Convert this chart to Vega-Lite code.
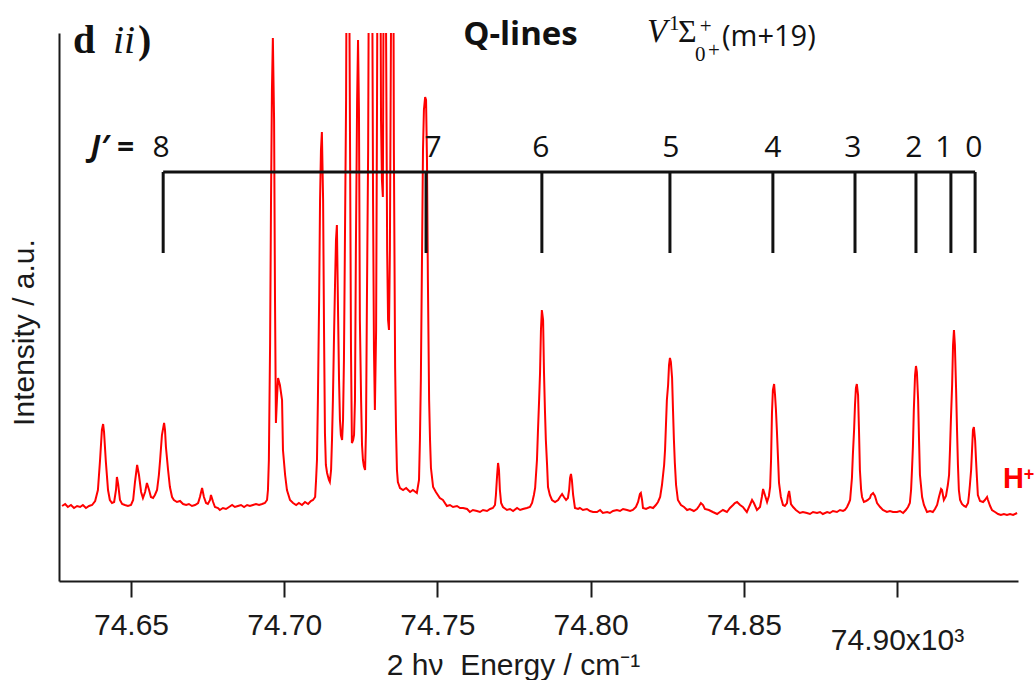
{
  "$schema": "https://vega.github.io/schema/vega-lite/v6.json",
  "width": 959,
  "height": 548,
  "autosize": {"type": "none"},
  "padding": {"left": 59, "top": 33, "right": 17, "bottom": 99},
  "background": "white",
  "config": {"view": {"stroke": null}, "font": "Liberation Sans"},
  "resolve": {"axis": {"x": "independent", "y": "independent"}},
  "datasets": {
    "spectrum": [
      {"e":74627.5,"i":75},{"e":74628.5,"i":77},{"e":74629.4,"i":74},{"e":74630.4,"i":76},{"e":74631.4,"i":73},{"e":74632.4,"i":75},{"e":74633.4,"i":74},{"e":74634.3,"i":76},{"e":74635.3,"i":73},{"e":74636.3,"i":75},{"e":74637.3,"i":76},{"e":74638.3,"i":80},{"e":74639.2,"i":91},{"e":74639.9,"i":121},{"e":74640.5,"i":151},{"e":74640.9,"i":157},{"e":74641.2,"i":149},{"e":74641.8,"i":119},{"e":74642.5,"i":91},{"e":74643.1,"i":81},{"e":74643.8,"i":78},{"e":74644.5,"i":79},{"e":74645.1,"i":91},{"e":74645.4,"i":104},{"e":74645.8,"i":97},{"e":74646.4,"i":81},{"e":74647.1,"i":77},{"e":74648.0,"i":76},{"e":74649.0,"i":75},{"e":74650.0,"i":76},{"e":74650.7,"i":81},{"e":74651.3,"i":99},{"e":74652.0,"i":116},{"e":74652.6,"i":106},{"e":74653.3,"i":89},{"e":74653.9,"i":83},{"e":74654.6,"i":89},{"e":74655.2,"i":98},{"e":74655.9,"i":91},{"e":74656.5,"i":84},{"e":74657.2,"i":83},{"e":74657.8,"i":86},{"e":74658.5,"i":91},{"e":74659.1,"i":106},{"e":74659.5,"i":121},{"e":74660.1,"i":146},{"e":74660.8,"i":158},{"e":74661.1,"i":151},{"e":74661.4,"i":134},{"e":74662.1,"i":111},{"e":74662.7,"i":94},{"e":74663.4,"i":84},{"e":74664.0,"i":81},{"e":74665.0,"i":79},{"e":74666.0,"i":80},{"e":74667.0,"i":77},{"e":74668.0,"i":76},{"e":74668.9,"i":77},{"e":74669.9,"i":75},{"e":74670.9,"i":76},{"e":74671.9,"i":78},{"e":74672.5,"i":84},{"e":74673.2,"i":93},{"e":74673.8,"i":84},{"e":74674.5,"i":78},{"e":74675.1,"i":77},{"e":74675.8,"i":81},{"e":74676.1,"i":86},{"e":74676.8,"i":79},{"e":74677.4,"i":74},{"e":74678.4,"i":73},{"e":74679.0,"i":71},{"e":74680.0,"i":73},{"e":74681.0,"i":72},{"e":74682.0,"i":74},{"e":74683.0,"i":76},{"e":74683.9,"i":74},{"e":74684.9,"i":75},{"e":74685.9,"i":76},{"e":74686.9,"i":74},{"e":74687.9,"i":76},{"e":74688.8,"i":75},{"e":74689.8,"i":76},{"e":74690.8,"i":77},{"e":74691.8,"i":76},{"e":74692.8,"i":77},{"e":74693.7,"i":78},{"e":74694.4,"i":81},{"e":74694.7,"i":91},{"e":74695.0,"i":121},{"e":74695.4,"i":238},{"e":74695.7,"i":381},{"e":74696.0,"i":491},{"e":74696.3,"i":543},{"e":74696.7,"i":461},{"e":74697.0,"i":281},{"e":74697.3,"i":158},{"e":74697.7,"i":186},{"e":74698.0,"i":203},{"e":74698.6,"i":196},{"e":74699.3,"i":181},{"e":74699.6,"i":131},{"e":74700.3,"i":106},{"e":74700.9,"i":91},{"e":74701.9,"i":81},{"e":74702.9,"i":78},{"e":74703.9,"i":76},{"e":74704.8,"i":78},{"e":74705.8,"i":76},{"e":74706.8,"i":79},{"e":74707.8,"i":77},{"e":74708.7,"i":80},{"e":74709.4,"i":81},{"e":74710.1,"i":84},{"e":74710.4,"i":101},{"e":74710.7,"i":121},{"e":74711.0,"i":181},{"e":74711.4,"i":281},{"e":74711.7,"i":381},{"e":74712.0,"i":431},{"e":74712.3,"i":449},{"e":74712.7,"i":381},{"e":74713.0,"i":251},{"e":74713.3,"i":148},{"e":74713.6,"i":116},{"e":74714.0,"i":108},{"e":74714.6,"i":101},{"e":74714.9,"i":99},{"e":74715.3,"i":111},{"e":74715.6,"i":141},{"e":74715.9,"i":181},{"e":74716.3,"i":251},{"e":74716.6,"i":298},{"e":74716.9,"i":341},{"e":74717.2,"i":356},{"e":74717.6,"i":264},{"e":74717.9,"i":201},{"e":74718.2,"i":161},{"e":74718.5,"i":146},{"e":74718.9,"i":141},{"e":74719.2,"i":161},{"e":74719.5,"i":221},{"e":74719.8,"i":331},{"e":74720.2,"i":481},{"e":74720.5,"i":731},{"e":74720.8,"i":831},{"e":74721.1,"i":681},{"e":74721.5,"i":431},{"e":74721.8,"i":231},{"e":74722.1,"i":138},{"e":74722.5,"i":141},{"e":74722.8,"i":146},{"e":74723.1,"i":181},{"e":74723.4,"i":331},{"e":74723.8,"i":481},{"e":74724.1,"i":541},{"e":74724.4,"i":471},{"e":74724.7,"i":261},{"e":74725.1,"i":181},{"e":74725.4,"i":136},{"e":74725.7,"i":121},{"e":74726.0,"i":115},{"e":74726.4,"i":111},{"e":74726.7,"i":151},{"e":74727.0,"i":281},{"e":74727.4,"i":431},{"e":74727.7,"i":681},{"e":74728.0,"i":831},{"e":74728.3,"i":781},{"e":74728.7,"i":631},{"e":74729.0,"i":381},{"e":74729.3,"i":231},{"e":74729.6,"i":171},{"e":74730.0,"i":251},{"e":74730.3,"i":481},{"e":74730.6,"i":781},{"e":74730.9,"i":831},{"e":74731.3,"i":731},{"e":74731.6,"i":461},{"e":74731.9,"i":401},{"e":74732.2,"i":384},{"e":74732.6,"i":731},{"e":74732.9,"i":831},{"e":74733.2,"i":581},{"e":74733.6,"i":331},{"e":74733.9,"i":261},{"e":74734.2,"i":251},{"e":74734.5,"i":331},{"e":74734.9,"i":581},{"e":74735.2,"i":831},{"e":74735.5,"i":781},{"e":74735.8,"i":431},{"e":74736.2,"i":214},{"e":74736.5,"i":151},{"e":74736.8,"i":111},{"e":74737.1,"i":99},{"e":74737.8,"i":93},{"e":74738.8,"i":91},{"e":74739.8,"i":93},{"e":74741.1,"i":89},{"e":74742.0,"i":91},{"e":74743.3,"i":88},{"e":74744.0,"i":101},{"e":74744.3,"i":141},{"e":74744.6,"i":201},{"e":74745.0,"i":331},{"e":74745.3,"i":431},{"e":74745.6,"i":471},{"e":74746.0,"i":484},{"e":74746.3,"i":481},{"e":74746.6,"i":421},{"e":74746.9,"i":301},{"e":74747.3,"i":181},{"e":74747.6,"i":141},{"e":74747.9,"i":113},{"e":74748.6,"i":94},{"e":74749.5,"i":89},{"e":74750.8,"i":83},{"e":74751.8,"i":81},{"e":74753.1,"i":75},{"e":74754.1,"i":76},{"e":74755.1,"i":74},{"e":74756.4,"i":75},{"e":74757.4,"i":73},{"e":74758.4,"i":73},{"e":74759.7,"i":72},{"e":74760.6,"i":69},{"e":74761.6,"i":71},{"e":74762.9,"i":70},{"e":74763.9,"i":69},{"e":74764.9,"i":71},{"e":74766.2,"i":70},{"e":74767.2,"i":72},{"e":74768.1,"i":73},{"e":74768.8,"i":76},{"e":74769.1,"i":86},{"e":74769.5,"i":106},{"e":74769.8,"i":118},{"e":74770.1,"i":111},{"e":74770.4,"i":91},{"e":74770.8,"i":78},{"e":74771.4,"i":74},{"e":74772.7,"i":71},{"e":74773.7,"i":72},{"e":74774.7,"i":70},{"e":74776.0,"i":73},{"e":74777.0,"i":71},{"e":74777.9,"i":72},{"e":74779.2,"i":73},{"e":74780.2,"i":74},{"e":74780.9,"i":78},{"e":74781.5,"i":86},{"e":74781.9,"i":93},{"e":74782.5,"i":121},{"e":74782.8,"i":148},{"e":74783.2,"i":181},{"e":74783.5,"i":208},{"e":74783.8,"i":251},{"e":74784.1,"i":271},{"e":74784.5,"i":261},{"e":74784.8,"i":208},{"e":74785.1,"i":171},{"e":74785.4,"i":141},{"e":74785.8,"i":116},{"e":74786.1,"i":94},{"e":74786.7,"i":86},{"e":74787.4,"i":81},{"e":74788.4,"i":79},{"e":74789.4,"i":81},{"e":74790.0,"i":84},{"e":74790.7,"i":87},{"e":74791.3,"i":84},{"e":74792.0,"i":81},{"e":74792.6,"i":83},{"e":74793.0,"i":91},{"e":74793.3,"i":103},{"e":74793.6,"i":107},{"e":74793.9,"i":101},{"e":74794.3,"i":86},{"e":74794.9,"i":73},{"e":74795.9,"i":72},{"e":74796.5,"i":73},{"e":74797.5,"i":71},{"e":74798.8,"i":72},{"e":74799.8,"i":70},{"e":74800.8,"i":69},{"e":74802.1,"i":69},{"e":74803.1,"i":71},{"e":74804.0,"i":68},{"e":74805.4,"i":69},{"e":74806.3,"i":68},{"e":74807.3,"i":70},{"e":74808.6,"i":71},{"e":74809.6,"i":70},{"e":74810.6,"i":72},{"e":74811.9,"i":71},{"e":74812.9,"i":70},{"e":74813.8,"i":71},{"e":74814.8,"i":74},{"e":74815.5,"i":79},{"e":74816.1,"i":87},{"e":74816.4,"i":88},{"e":74816.8,"i":81},{"e":74817.1,"i":73},{"e":74818.1,"i":72},{"e":74819.4,"i":74},{"e":74820.4,"i":73},{"e":74821.3,"i":76},{"e":74822.0,"i":79},{"e":74822.7,"i":84},{"e":74823.3,"i":96},{"e":74824.0,"i":116},{"e":74824.3,"i":131},{"e":74824.6,"i":156},{"e":74824.9,"i":181},{"e":74825.3,"i":196},{"e":74825.6,"i":216},{"e":74825.9,"i":223},{"e":74826.2,"i":219},{"e":74826.6,"i":203},{"e":74826.9,"i":171},{"e":74827.2,"i":141},{"e":74827.5,"i":118},{"e":74827.9,"i":96},{"e":74828.5,"i":81},{"e":74829.5,"i":76},{"e":74830.5,"i":74},{"e":74831.5,"i":71},{"e":74832.4,"i":72},{"e":74833.7,"i":70},{"e":74834.7,"i":72},{"e":74835.4,"i":75},{"e":74836.0,"i":78},{"e":74836.7,"i":76},{"e":74837.3,"i":72},{"e":74838.6,"i":71},{"e":74839.9,"i":69},{"e":74841.3,"i":67},{"e":74842.2,"i":69},{"e":74843.2,"i":71},{"e":74844.5,"i":69},{"e":74845.5,"i":73},{"e":74846.5,"i":76},{"e":74847.1,"i":78},{"e":74847.8,"i":79},{"e":74848.8,"i":76},{"e":74849.7,"i":74},{"e":74851.0,"i":69},{"e":74852.0,"i":76},{"e":74852.7,"i":81},{"e":74853.3,"i":78},{"e":74854.3,"i":71},{"e":74855.3,"i":74},{"e":74855.9,"i":84},{"e":74856.3,"i":92},{"e":74856.9,"i":86},{"e":74857.6,"i":79},{"e":74858.2,"i":85},{"e":74858.6,"i":94},{"e":74858.9,"i":121},{"e":74859.2,"i":168},{"e":74859.5,"i":191},{"e":74859.9,"i":197},{"e":74860.2,"i":186},{"e":74860.5,"i":171},{"e":74860.8,"i":151},{"e":74861.2,"i":121},{"e":74861.5,"i":98},{"e":74862.1,"i":84},{"e":74862.8,"i":76},{"e":74863.4,"i":75},{"e":74864.1,"i":78},{"e":74864.4,"i":85},{"e":74864.8,"i":90},{"e":74865.1,"i":84},{"e":74865.4,"i":77},{"e":74866.1,"i":74},{"e":74867.0,"i":71},{"e":74868.3,"i":68},{"e":74869.3,"i":69},{"e":74870.6,"i":68},{"e":74871.6,"i":67},{"e":74872.6,"i":69},{"e":74873.9,"i":68},{"e":74874.9,"i":69},{"e":74875.8,"i":67},{"e":74877.2,"i":69},{"e":74878.1,"i":68},{"e":74879.1,"i":70},{"e":74880.4,"i":69},{"e":74881.4,"i":71},{"e":74882.4,"i":70},{"e":74883.0,"i":71},{"e":74883.7,"i":74},{"e":74884.3,"i":78},{"e":74884.7,"i":81},{"e":74885.3,"i":103},{"e":74885.6,"i":126},{"e":74886.0,"i":151},{"e":74886.3,"i":176},{"e":74886.6,"i":193},{"e":74886.9,"i":197},{"e":74887.3,"i":186},{"e":74887.6,"i":151},{"e":74887.9,"i":111},{"e":74888.3,"i":91},{"e":74888.6,"i":84},{"e":74889.2,"i":79},{"e":74889.9,"i":80},{"e":74890.5,"i":81},{"e":74891.2,"i":83},{"e":74891.5,"i":86},{"e":74892.2,"i":88},{"e":74892.8,"i":85},{"e":74893.5,"i":78},{"e":74894.5,"i":74},{"e":74895.4,"i":71},{"e":74896.7,"i":69},{"e":74897.7,"i":70},{"e":74898.7,"i":69},{"e":74900.0,"i":69},{"e":74901.0,"i":70},{"e":74902.0,"i":68},{"e":74902.9,"i":71},{"e":74903.6,"i":74},{"e":74904.2,"i":78},{"e":74904.6,"i":91},{"e":74904.9,"i":111},{"e":74905.2,"i":134},{"e":74905.5,"i":171},{"e":74905.9,"i":206},{"e":74906.2,"i":215},{"e":74906.5,"i":209},{"e":74906.9,"i":181},{"e":74907.2,"i":141},{"e":74907.5,"i":106},{"e":74908.2,"i":84},{"e":74908.8,"i":76},{"e":74909.8,"i":69},{"e":74910.8,"i":70},{"e":74911.7,"i":69},{"e":74912.4,"i":72},{"e":74913.1,"i":76},{"e":74913.7,"i":84},{"e":74914.4,"i":92},{"e":74914.7,"i":91},{"e":74915.3,"i":81},{"e":74916.0,"i":85},{"e":74916.6,"i":96},{"e":74917.0,"i":106},{"e":74917.3,"i":131},{"e":74917.6,"i":161},{"e":74918.0,"i":196},{"e":74918.3,"i":236},{"e":74918.6,"i":251},{"e":74918.9,"i":236},{"e":74919.3,"i":191},{"e":74919.6,"i":151},{"e":74919.9,"i":116},{"e":74920.2,"i":91},{"e":74920.6,"i":81},{"e":74921.2,"i":77},{"e":74921.9,"i":75},{"e":74922.5,"i":74},{"e":74923.2,"i":78},{"e":74923.5,"i":86},{"e":74923.8,"i":96},{"e":74924.2,"i":111},{"e":74924.5,"i":131},{"e":74924.8,"i":151},{"e":74925.1,"i":154},{"e":74925.5,"i":141},{"e":74925.8,"i":121},{"e":74926.1,"i":103},{"e":74926.4,"i":86},{"e":74927.1,"i":80},{"e":74928.1,"i":79},{"e":74928.7,"i":81},{"e":74929.4,"i":84},{"e":74929.7,"i":81},{"e":74930.4,"i":75},{"e":74931.0,"i":71},{"e":74932.0,"i":69},{"e":74933.0,"i":67},{"e":74933.9,"i":66},{"e":74934.9,"i":67},{"e":74935.9,"i":66},{"e":74936.9,"i":67},{"e":74937.9,"i":66},{"e":74939.2,"i":68}
    ],
    "ladder": [
      {"J": 8, "e": 74660.5}, {"J": 7, "e": 74746.3}, {"J": 6, "e": 74784.1},
      {"J": 5, "e": 74825.9}, {"J": 4, "e": 74859.5}, {"J": 3, "e": 74886.3},
      {"J": 2, "e": 74906.2}, {"J": 1, "e": 74917.6}, {"J": 0, "e": 74925.5}
    ],
    "ladderLabels": [
      {"J": "8", "e": 74659.8, "i": 424}, {"J": "7", "e": 74748.6, "i": 424}, {"J": "6", "e": 74783.8, "i": 424},
      {"J": "5", "e": 74826.2, "i": 424}, {"J": "4", "e": 74859.5, "i": 424}, {"J": "3", "e": 74885.6, "i": 424},
      {"J": "2", "e": 74905.5, "i": 424}, {"J": "1", "e": 74915.3, "i": 424}, {"J": "0", "e": 74925.1, "i": 424}
    ]
  },
  "layer": [
    {
      "data": {"name": "spectrum"},
      "mark": {"type": "line", "color": "#ff0000", "strokeWidth": 2, "clip": true, "interpolate": "linear"},
      "encoding": {
        "x": {
          "field": "e",
          "type": "quantitative",
          "scale": {"domain": [74626.5, 74939.5], "nice": false, "zero": false},
          "axis": {
            "values": [74650, 74700, 74750, 74800, 74850, 74900],
            "labelExpr": "datum.value == 74900 ? '74.90x10³' : format(datum.value / 1000, '.2f')",
            "grid": false,
            "tickSize": 16,
            "tickWidth": 2,
            "tickColor": "#1a1a1a",
            "domainColor": "#1a1a1a",
            "domainWidth": 2,
            "labelFont": "Liberation Sans",
            "labelFontSize": 30,
            "labelColor": "#1a1a1a",
            "labelPadding": {"condition": {"test": "datum.value == 74900", "value": 28}, "value": 13},
            "labelFlush": false,
            "labelOverlap": false,
            "title": "2 hν\u00a0 Energy / cm⁻¹",
            "titleFont": "Liberation Sans",
            "titleFontSize": 30,
            "titleFontWeight": "normal",
            "titleColor": "#1a1a1a",
            "titleX": 454,
            "titleY": 93,
            "titleBaseline": "alphabetic",
            "titleAlign": "center"
          }
        },
        "y": {
          "field": "i",
          "type": "quantitative",
          "scale": {"domain": [0, 548], "nice": false, "zero": false},
          "axis": {
            "ticks": false,
            "labels": false,
            "grid": false,
            "domainColor": "#1a1a1a",
            "domainWidth": 2,
            "title": "Intensity / a.u.",
            "titleFont": "Liberation Sans",
            "titleFontSize": 30,
            "titleFontWeight": "normal",
            "titleColor": "#1a1a1a",
            "titleX": -26,
            "titleY": 299,
            "titleAngle": -90,
            "titleBaseline": "alphabetic",
            "titleAlign": "center"
          }
        }
      }
    },
    {
      "data": {"name": "ladder"},
      "transform": [{"aggregate": [{"op": "min", "field": "e", "as": "e"}, {"op": "max", "field": "e", "as": "e_end"}]}],
      "mark": {"type": "rule", "strokeWidth": 3, "color": "#111111"},
      "encoding": {
        "x": {"field": "e", "type": "quantitative", "scale": {"domain": [74626.5, 74939.5], "nice": false, "zero": false}, "axis": null},
        "x2": {"field": "e_end"},
        "y": {"datum": 409, "type": "quantitative", "scale": {"domain": [0, 548], "nice": false, "zero": false}, "axis": null}
      }
    },
    {
      "data": {"name": "ladder"},
      "mark": {"type": "rule", "strokeWidth": 3, "color": "#111111"},
      "encoding": {
        "x": {"field": "e", "type": "quantitative", "scale": {"domain": [74626.5, 74939.5], "nice": false, "zero": false}, "axis": null},
        "y": {"datum": 409, "type": "quantitative", "scale": {"domain": [0, 548], "nice": false, "zero": false}, "axis": null},
        "y2": {"datum": 328}
      }
    },
    {
      "data": {"name": "ladderLabels"},
      "mark": {"type": "text", "font": "Open Sans", "fontSize": 30, "align": "center", "baseline": "alphabetic", "color": "#111111"},
      "encoding": {
        "x": {"field": "e", "type": "quantitative", "scale": {"domain": [74626.5, 74939.5], "nice": false, "zero": false}, "axis": null},
        "y": {"field": "i", "type": "quantitative", "scale": {"domain": [0, 548], "nice": false, "zero": false}, "axis": null},
        "text": {"field": "J", "type": "nominal"}
      }
    },
    {
      "data": {"values": [{"t": "J′ =", "e": 74636.8, "i": 424}]},
      "mark": {"type": "text", "font": "Open Sans", "fontSize": 30, "fontWeight": "bold", "fontStyle": "italic", "align": "left", "baseline": "alphabetic", "color": "#111111"},
      "encoding": {
        "x": {"field": "e", "type": "quantitative", "scale": {"domain": [74626.5, 74939.5], "nice": false, "zero": false}, "axis": null},
        "y": {"field": "i", "type": "quantitative", "scale": {"domain": [0, 548], "nice": false, "zero": false}, "axis": null},
        "text": {"field": "t"}
      }
    },
    {
      "data": {"values": [{"t": "d", "e": 74631.1, "i": 528}, {"t": ")", "e": 74652.3, "i": 528}]},
      "mark": {"type": "text", "font": "Liberation Serif", "fontSize": 40, "fontWeight": "bold", "align": "left", "baseline": "alphabetic", "color": "#111111"},
      "encoding": {
        "x": {"field": "e", "type": "quantitative", "scale": {"domain": [74626.5, 74939.5], "nice": false, "zero": false}, "axis": null},
        "y": {"field": "i", "type": "quantitative", "scale": {"domain": [0, 548], "nice": false, "zero": false}, "axis": null},
        "text": {"field": "t"}
      }
    },
    {
      "data": {"values": [{"t": "ii", "e": 74644.1, "i": 528}]},
      "mark": {"type": "text", "font": "Liberation Serif", "fontSize": 40, "fontStyle": "italic", "align": "left", "baseline": "alphabetic", "color": "#111111"},
      "encoding": {
        "x": {"field": "e", "type": "quantitative", "scale": {"domain": [74626.5, 74939.5], "nice": false, "zero": false}, "axis": null},
        "y": {"field": "i", "type": "quantitative", "scale": {"domain": [0, 548], "nice": false, "zero": false}, "axis": null},
        "text": {"field": "t"}
      }
    },
    {
      "data": {"values": [{"t": "Q-lines", "e": 74758.4, "i": 536}]},
      "mark": {"type": "text", "font": "Open Sans", "fontSize": 33, "fontWeight": "bold", "align": "left", "baseline": "alphabetic", "color": "#111111"},
      "encoding": {
        "x": {"field": "e", "type": "quantitative", "scale": {"domain": [74626.5, 74939.5], "nice": false, "zero": false}, "axis": null},
        "y": {"field": "i", "type": "quantitative", "scale": {"domain": [0, 548], "nice": false, "zero": false}, "axis": null},
        "text": {"field": "t"}
      }
    },
    {
      "data": {"values": [{"t": "V", "e": 74818.4, "i": 539}]},
      "mark": {"type": "text", "font": "Liberation Serif", "fontSize": 33, "fontStyle": "italic", "align": "left", "baseline": "alphabetic", "color": "#111111"},
      "encoding": {
        "x": {"field": "e", "type": "quantitative", "scale": {"domain": [74626.5, 74939.5], "nice": false, "zero": false}, "axis": null},
        "y": {"field": "i", "type": "quantitative", "scale": {"domain": [0, 548], "nice": false, "zero": false}, "axis": null},
        "text": {"field": "t"}
      }
    },
    {
      "data": {"values": [{"t": "Σ", "e": 74828.5, "i": 539}]},
      "mark": {"type": "text", "font": "Liberation Serif", "fontSize": 32, "align": "left", "baseline": "alphabetic", "color": "#111111"},
      "encoding": {
        "x": {"field": "e", "type": "quantitative", "scale": {"domain": [74626.5, 74939.5], "nice": false, "zero": false}, "axis": null},
        "y": {"field": "i", "type": "quantitative", "scale": {"domain": [0, 548], "nice": false, "zero": false}, "axis": null},
        "text": {"field": "t"}
      }
    },
    {
      "data": {"values": [{"t": "1", "e": 74825.6, "i": 551}, {"t": "+", "e": 74835.6, "i": 548}, {"t": "0", "e": 74834.1, "i": 520}, {"t": "+", "e": 74838.3, "i": 524}]},
      "mark": {"type": "text", "font": "Liberation Serif", "fontSize": 21, "align": "left", "baseline": "alphabetic", "color": "#111111"},
      "encoding": {
        "x": {"field": "e", "type": "quantitative", "scale": {"domain": [74626.5, 74939.5], "nice": false, "zero": false}, "axis": null},
        "y": {"field": "i", "type": "quantitative", "scale": {"domain": [0, 548], "nice": false, "zero": false}, "axis": null},
        "text": {"field": "t"}
      }
    },
    {
      "data": {"values": [{"t": "(m+19)", "e": 74842.9, "i": 535}]},
      "mark": {"type": "text", "font": "Open Sans", "fontSize": 29, "align": "left", "baseline": "alphabetic", "color": "#111111"},
      "encoding": {
        "x": {"field": "e", "type": "quantitative", "scale": {"domain": [74626.5, 74939.5], "nice": false, "zero": false}, "axis": null},
        "y": {"field": "i", "type": "quantitative", "scale": {"domain": [0, 548], "nice": false, "zero": false}, "axis": null},
        "text": {"field": "t"}
      }
    },
    {
      "data": {"values": [{"t": "H", "e": 74934.6, "i": 93}]},
      "mark": {"type": "text", "font": "Liberation Sans", "fontSize": 29, "fontWeight": "bold", "align": "left", "baseline": "alphabetic", "color": "#ff0000"},
      "encoding": {
        "x": {"field": "e", "type": "quantitative", "scale": {"domain": [74626.5, 74939.5], "nice": false, "zero": false}, "axis": null},
        "y": {"field": "i", "type": "quantitative", "scale": {"domain": [0, 548], "nice": false, "zero": false}, "axis": null},
        "text": {"field": "t"}
      }
    },
    {
      "data": {"values": [{"t": "+", "e": 74941.4, "i": 101}]},
      "mark": {"type": "text", "font": "Liberation Sans", "fontSize": 18, "fontWeight": "bold", "align": "left", "baseline": "alphabetic", "color": "#ff0000"},
      "encoding": {
        "x": {"field": "e", "type": "quantitative", "scale": {"domain": [74626.5, 74939.5], "nice": false, "zero": false}, "axis": null},
        "y": {"field": "i", "type": "quantitative", "scale": {"domain": [0, 548], "nice": false, "zero": false}, "axis": null},
        "text": {"field": "t"}
      }
    }
  ]
}
